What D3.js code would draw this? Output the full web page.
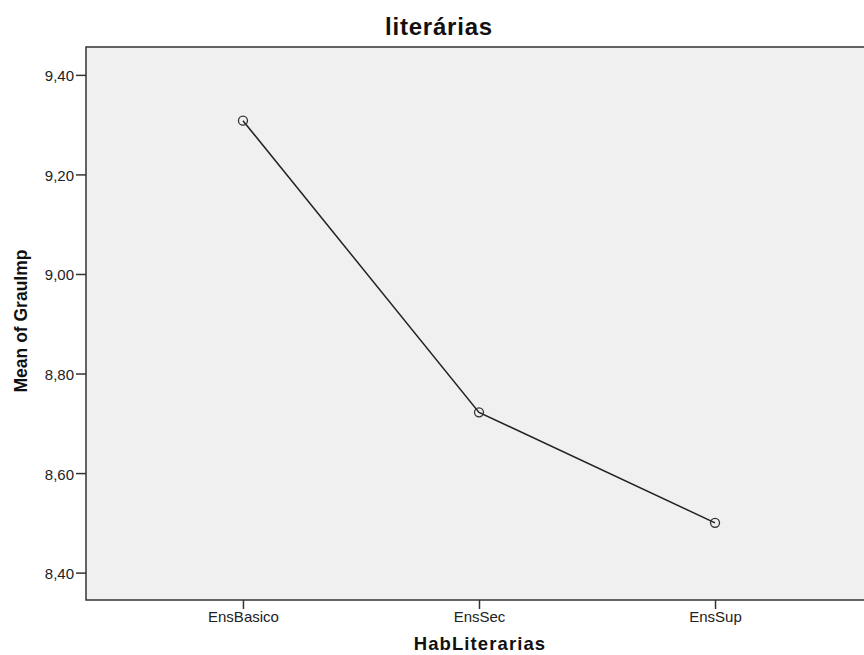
<!DOCTYPE html>
<html><head><meta charset="utf-8">
<script src="https://cdn.jsdelivr.net/npm/d3@7"></script>
<style>body{margin:0;background:#fff}svg{display:block}text{font-family:Arial,"Liberation Sans",sans-serif}</style>
</head><body>
<script>
const categories = ["EnsBasico", "EnsSec", "EnsSup"];
const values = [9.308, 8.722, 8.500];
const yTicks = [8.40, 8.60, 8.80, 9.00, 9.20, 9.40];

const W = 864, H = 655;
const m = {left: 86, top: 47, right: 872, bottom: 600};
const svg = d3.select("body").append("svg").attr("width", W).attr("height", H);

const x = d3.scalePoint().domain(categories).range([m.left, m.right]).padding(0.665);
const y = d3.scaleLinear().domain([8.345, 9.456]).range([m.bottom, m.top]);

svg.append("rect").attr("x", m.left).attr("y", m.top)
  .attr("width", m.right - m.left).attr("height", m.bottom - m.top)
  .attr("fill", "#f0f0f0").attr("stroke", "#333").attr("stroke-width", 1.5);

const fmt = d => d.toFixed(2).replace(".", ",");
const ya = svg.append("g").attr("transform", `translate(${m.left},0)`)
  .call(d3.axisLeft(y).tickValues(yTicks).tickFormat(fmt).tickSize(10).tickPadding(2));
ya.select(".domain").remove();
ya.selectAll("line").attr("stroke", "#333").attr("stroke-width", 1.5);
ya.selectAll("text").attr("font-size", 15).attr("fill", "#222").attr("dy", "0.4em");

const xa = svg.append("g").attr("transform", `translate(0,${m.bottom})`)
  .call(d3.axisBottom(x).tickSize(9).tickPadding(4));
xa.select(".domain").remove();
xa.selectAll("line").attr("stroke", "#333").attr("stroke-width", 1.5);
xa.selectAll("text").attr("font-size", 15).attr("fill", "#222").attr("dy", "0.6em");

const pts = categories.map((c, i) => [x(c), y(values[i])]);
svg.append("path").attr("d", d3.line()(pts)).attr("fill", "none")
  .attr("stroke", "#222").attr("stroke-width", 1.5);
svg.selectAll("circle.pt").data(pts).join("circle").attr("class", "pt")
  .attr("cx", d => d[0]).attr("cy", d => d[1]).attr("r", 4.5)
  .attr("fill", "none").attr("stroke", "#333").attr("stroke-width", 1.3);

svg.append("text").attr("x", 439).attr("y", 35).attr("text-anchor", "middle")
  .attr("font-size", 24).attr("font-weight", "bold").attr("letter-spacing", 0.8)
  .attr("fill", "#111").text("literárias");
svg.append("text").attr("x", 480).attr("y", 650).attr("text-anchor", "middle")
  .attr("font-size", 18.5).attr("font-weight", "bold").attr("letter-spacing", 1.1)
  .attr("fill", "#111").text("HabLiterarias");
svg.append("text").attr("transform", `translate(27,321) rotate(-90)`)
  .attr("text-anchor", "middle").attr("font-size", 17.5).attr("font-weight", "bold")
  .attr("fill", "#111").text("Mean of GrauImp");
</script>
</body></html>
